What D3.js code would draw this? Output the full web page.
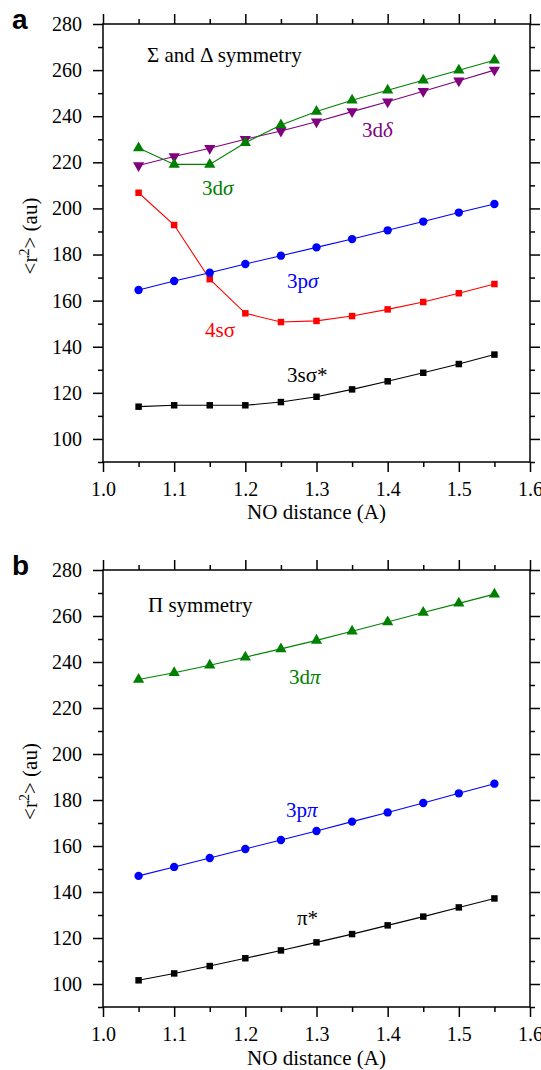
<!DOCTYPE html>
<html>
<head>
<meta charset="utf-8">
<title>NO r2 expectation values</title>
<script src="https://cdn.jsdelivr.net/npm/d3@7"></script>
<style>
    body {
        margin: 0;
        padding: 0;
        background: #fff;
    }

    svg text {
        font-family: "Liberation Serif", "Times New Roman", serif;
    }

    .panel-letter {
        font-family: "Liberation Sans", Arial, sans-serif !important;
        font-weight: bold;
        font-size: 28px;
    }
</style>
</head>
<body>
<svg id="chart" width="541" height="1070"></svg>
<script>
    // NO distance (A)
    var distance = [1.05, 1.10, 1.15, 1.20, 1.25, 1.30, 1.35, 1.40, 1.45, 1.50, 1.55];

    // panel a : sigma and delta symmetry
    var r2_3dsigma = [226.2, 219.1, 219.1, 228.5, 236.2, 242.0, 246.9, 251.3, 255.6, 259.9, 264.3];
    var r2_3ddelta = [218.6, 222.5, 226.1, 230.0, 233.6, 237.6, 242.0, 246.3, 250.8, 255.4, 260.0];
    var r2_4ssigma = [206.8, 192.8, 169.3, 154.5, 150.7, 151.2, 153.3, 156.2, 159.4, 163.2, 167.2];
    var r2_3psigma = [164.6, 168.5, 172.1, 175.9, 179.5, 183.1, 186.7, 190.5, 194.3, 198.2, 201.9];
    var r2_3ssigma = [114.0, 114.6, 114.6, 114.6, 116.0, 118.3, 121.5, 125.0, 128.7, 132.5, 136.6];

    // panel b : pi symmetry
    var r2_3dpi = [232.4, 235.3, 238.6, 242.1, 245.7, 249.4, 253.4, 257.4, 261.5, 265.5, 269.5];
    var r2_3ppi = [147.0, 150.9, 154.8, 158.7, 162.6, 166.5, 170.6, 174.6, 178.7, 182.9, 187.1];
    var r2_pistar = [101.6, 104.6, 107.8, 111.2, 114.6, 118.1, 121.7, 125.5, 129.3, 133.3, 137.2];

    // axis ticks
    var xTicks = [1.0, 1.1, 1.2, 1.3, 1.4, 1.5, 1.6];
    var xMinor = [1.05, 1.15, 1.25, 1.35, 1.45, 1.55];
    var yTicks = [100, 120, 140, 160, 180, 200, 220, 240, 260, 280];
    var yMinor = [90, 110, 130, 150, 170, 190, 210, 230, 250, 270];

    var svg = d3.select("#chart");
    var left = 103, right = 530;

    var x = d3.scaleLinear().domain([1.0, 1.6]).range([left, right]);

    function drawPanel(opt) {
        var y = d3.scaleLinear().domain([90, 280]).range([opt.bottom, opt.top]);
        var g = svg.append("g");

        // frame
        g.append("rect")
            .attr("x", left).attr("y", opt.top)
            .attr("width", right - left).attr("height", opt.bottom - opt.top)
            .attr("fill", "none").attr("stroke", "#000").attr("stroke-width", 1.5);

        function styleAxis(sel) {
            sel.select(".domain").remove();
            sel.selectAll(".tick line").attr("stroke", "#000").attr("stroke-width", 1.5);
            sel.selectAll(".tick text").attr("fill", "#000")
                .style("font-size", "20px")
                .style("font-family", "'Liberation Serif', 'Times New Roman', serif");
        }

        // left
        g.append("g").attr("transform", "translate(" + left + ",0)")
            .call(d3.axisLeft(y).tickValues(yTicks).tickSize(10).tickPadding(11).tickFormat(d3.format("d")))
            .call(styleAxis);
        g.append("g").attr("transform", "translate(" + left + ",0)")
            .call(d3.axisLeft(y).tickValues(yMinor).tickSize(5).tickFormat(""))
            .call(styleAxis);
        // right
        g.append("g").attr("transform", "translate(" + right + ",0)")
            .call(d3.axisRight(y).tickValues(yTicks).tickSize(10).tickFormat(""))
            .call(styleAxis);
        g.append("g").attr("transform", "translate(" + right + ",0)")
            .call(d3.axisRight(y).tickValues(yMinor).tickSize(5).tickFormat(""))
            .call(styleAxis);
        // bottom
        g.append("g").attr("transform", "translate(0," + opt.bottom + ")")
            .call(d3.axisBottom(x).tickValues(xTicks).tickSize(10).tickPadding(10).tickFormat(d3.format(".1f")))
            .call(styleAxis);
        g.append("g").attr("transform", "translate(0," + opt.bottom + ")")
            .call(d3.axisBottom(x).tickValues(xMinor).tickSize(5).tickFormat(""))
            .call(styleAxis);
        // top
        g.append("g").attr("transform", "translate(0," + opt.top + ")")
            .call(d3.axisTop(x).tickValues(xTicks).tickSize(10).tickFormat(""))
            .call(styleAxis);
        g.append("g").attr("transform", "translate(0," + opt.top + ")")
            .call(d3.axisTop(x).tickValues(xMinor).tickSize(5).tickFormat(""))
            .call(styleAxis);

        // axis titles
        g.append("text")
            .attr("x", (left + right) / 2).attr("y", opt.bottom + opt.titleGap)
            .attr("text-anchor", "middle").style("font-size", "21px")
            .text("NO distance (A)");

        var yl = g.append("text")
            .attr("transform", "translate(37," + ((opt.top + opt.bottom) / 2 - 7) + ") rotate(-90)")
            .attr("text-anchor", "middle").style("font-size", "21px");
        yl.append("tspan").text("<r");
        yl.append("tspan").attr("dy", -8).style("font-size", "14px").text("2");
        yl.append("tspan").attr("dy", 8).text("> (au)");

        g.append("text").attr("class", "panel-letter")
            .attr("x", 12).attr("y", opt.top + 5)
            .text(opt.letter);

        var line = d3.line()
            .x(function (d, i) { return x(distance[i]); })
            .y(function (d) { return y(d); });

        opt.series.forEach(function (s) {
            g.append("path").datum(s.values)
                .attr("d", line)
                .attr("fill", "none").attr("stroke", s.color).attr("stroke-width", 1.1);

            var sym = d3.symbol().type(s.shape).size(s.size);
            g.selectAll(null).data(s.values).enter().append("path")
                .attr("d", sym)
                .attr("transform", function (d, i) {
                    return "translate(" + x(distance[i]) + "," + y(d) + ")" + (s.down ? " rotate(180)" : "");
                })
                .attr("fill", s.color);
        });

        opt.labels.forEach(function (l) {
            var t = g.append("text")
                .attr("x", l.x).attr("y", l.y)
                .attr("fill", l.color).style("font-size", "21px");
            l.parts.forEach(function (p) {
                t.append("tspan").style("font-style", p[1] ? "italic" : "normal").text(p[0]);
            });
        });
    }

    drawPanel({
        letter: "a", top: 24, bottom: 462, titleGap: 57,
        series: [
            { values: r2_3ssigma, color: "#000000", shape: d3.symbolSquare, size: 42 },
            { values: r2_4ssigma, color: "#ff0000", shape: d3.symbolSquare, size: 42 },
            { values: r2_3psigma, color: "#0000ff", shape: d3.symbolCircle, size: 55 },
            { values: r2_3ddelta, color: "#800080", shape: d3.symbolTriangle, size: 55, down: true },
            { values: r2_3dsigma, color: "#008000", shape: d3.symbolTriangle, size: 55 }
        ],
        labels: [
            { x: 147, y: 62, color: "#000", parts: [["\u03a3 and \u0394 symmetry", false]] },
            { x: 362, y: 137, color: "#800080", parts: [["3d", false], ["\u03b4", true]] },
            { x: 202, y: 195, color: "#008000", parts: [["3d", false], ["\u03c3", true]] },
            { x: 287, y: 288, color: "#0000ff", parts: [["3p", false], ["\u03c3", true]] },
            { x: 205, y: 337, color: "#ff0000", parts: [["4s\u03c3", false]] },
            { x: 287, y: 382, color: "#000", parts: [["3s\u03c3*", false]] }
        ]
    });

    drawPanel({
        letter: "b", top: 570, bottom: 1007, titleGap: 58,
        series: [
            { values: r2_pistar, color: "#000000", shape: d3.symbolSquare, size: 42 },
            { values: r2_3ppi, color: "#0000ff", shape: d3.symbolCircle, size: 55 },
            { values: r2_3dpi, color: "#008000", shape: d3.symbolTriangle, size: 55 }
        ],
        labels: [
            { x: 148, y: 612, color: "#000", parts: [["\u03a0 symmetry", false]] },
            { x: 289, y: 684, color: "#008000", parts: [["3d", false], ["\u03c0", true]] },
            { x: 286, y: 817, color: "#0000ff", parts: [["3p", false], ["\u03c0", true]] },
            { x: 297, y: 925, color: "#000", parts: [["\u03c0*", false]] }
        ]
    });
</script>
</body>
</html>
